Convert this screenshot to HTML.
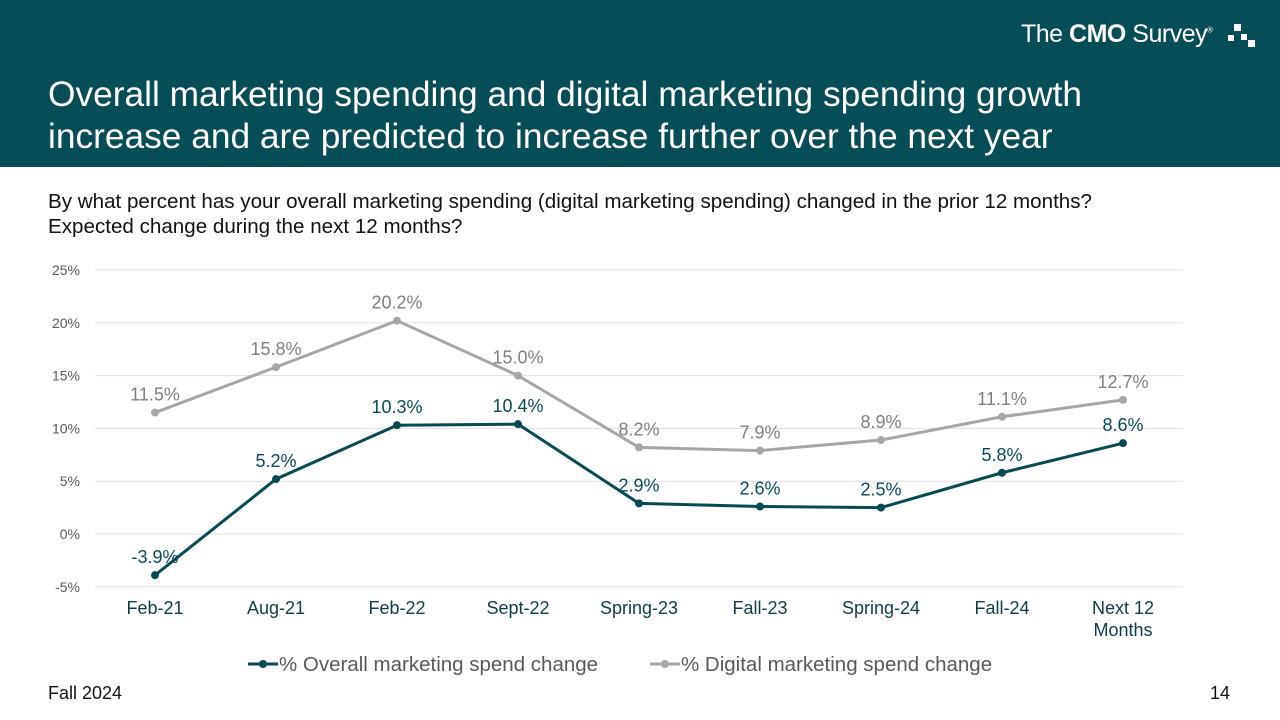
<!DOCTYPE html>
<html><head><meta charset="utf-8"><style>
body{margin:0;width:1280px;height:720px;position:relative;font-family:"Liberation Sans",Arial,sans-serif;background:#fff;overflow:hidden}
#hdr{position:absolute;left:0;top:0;width:1280px;height:167px;background:#064e55}
#title{position:absolute;left:48px;top:74px;color:#fff;font-size:35.3px;line-height:42px;white-space:nowrap}
#logo{position:absolute;left:1021px;top:20px;color:#fff;font-size:25px;letter-spacing:-0.5px}
#sub{position:absolute;left:48px;top:189px;font-size:20.6px;line-height:25px;color:#111;white-space:nowrap}
.foot{position:absolute;top:683px;font-size:18px;color:#111}
</style></head><body>
<div id="hdr"></div>
<div id="logo">The <b>CMO</b> Survey<sup style="font-size:8px">®</sup><svg width="40" height="28" style="position:absolute;left:205px;top:2px"><rect x="8" y="2" width="7" height="7" fill="#fff"/><rect x="2" y="13" width="6" height="6" fill="#fff"/><rect x="15" y="12" width="6" height="6" fill="#fff"/><rect x="22" y="18" width="7" height="7" fill="#fff"/></svg></div>
<div id="title">Overall marketing spending and digital marketing spending growth<br>increase and are predicted to increase further over the next year</div>
<div id="sub">By what percent has your overall marketing spending (digital marketing spending) changed in the prior 12 months?<br>Expected change during the next 12 months?</div>
<svg id="chart" width="1280" height="720" style="position:absolute;left:0;top:0"></svg>
<div class="foot" style="left:48px">Fall 2024</div>
<div class="foot" style="left:1210px">14</div>
<script>
const categories=["Feb-21","Aug-21","Feb-22","Sept-22","Spring-23","Fall-23","Spring-24","Fall-24","Next 12|Months"];
const overall=[-3.9,5.2,10.3,10.4,2.9,2.6,2.5,5.8,8.6];
const digital=[11.5,15.8,20.2,15.0,8.2,7.9,8.9,11.1,12.7];
const yTicks=[-5,0,5,10,15,20,25];
const NS="http://www.w3.org/2000/svg";
const svg=document.getElementById('chart');
const x=i=>155+i*121;
const y=v=>534-v*10.56;
function mk(t,a,p){const e=document.createElementNS(NS,t);for(const k in a)e.setAttribute(k,a[k]);(p||svg).appendChild(e);return e;}
yTicks.forEach(v=>{
 const l=mk('line',{x1:95,x2:1183,y1:y(v),y2:y(v),stroke:'#e0e0e0','stroke-width':1});
 
 
 const t=mk('text',{x:80,y:y(v)+5,'text-anchor':'end','font-size':14,fill:'#595959'});
 t.textContent=v+'%';
 
 
});
categories.forEach((c,i)=>{
 c.split('|').forEach((s,j)=>{
  const t=mk('text',{x:x(i),y:614+j*22,'text-anchor':'middle','font-size':18,fill:'#0f3d44'});
  t.textContent=s;
  
  
 });
});
function series(vals,col,lblCol,name,offs){
 const p=mk('polyline',{points:vals.map((v,i)=>x(i)+','+y(v)).join(' '),fill:'none',stroke:col,'stroke-width':3});
 
 
 vals.forEach((v,i)=>{
  const c=mk('circle',{cx:x(i),cy:y(v),r:4,fill:col});
  
  
  const t=mk('text',{x:x(i),y:y(v)+offs,'text-anchor':'middle','font-size':18,fill:lblCol});
  t.textContent=v.toFixed(1)+'%';
  
  
 });
}
series(digital,'#a6a6a6','#7f7f7f','digital',-12);
series(overall,'#0a4a52','#0a4a52','overall',-12);
const lg=[[248,'#0a4a52','% Overall marketing spend change'],[650,'#a6a6a6','% Digital marketing spend change']];
lg.forEach(([lx,col,txt])=>{
 const g=mk('g',{});
 
 
 mk('line',{x1:lx,x2:lx+30,y1:664,y2:664,stroke:col,'stroke-width':3},g);
 mk('circle',{cx:lx+15,cy:664,r:4,fill:col},g);
 const t=mk('text',{x:lx+31,y:671,'font-size':20.5,fill:'#595959'},g);
 t.textContent=txt;
});
</script>
</body></html>
